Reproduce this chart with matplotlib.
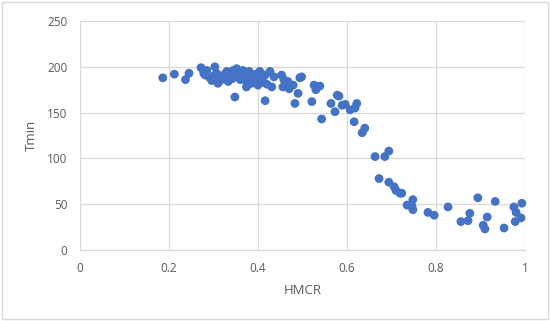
import matplotlib
matplotlib.use("Agg")
import matplotlib.pyplot as plt
from matplotlib.patches import Rectangle

hmcr = [
    0.186, 0.212, 0.237, 0.245, 0.272, 0.281, 0.292, 0.303, 0.307, 0.310,
    0.322, 0.330, 0.337, 0.344, 0.352, 0.348, 0.355, 0.360, 0.366, 0.374,
    0.374, 0.366, 0.374, 0.389, 0.404, 0.400, 0.416, 0.427, 0.431, 0.416,
    0.453, 0.456, 0.467, 0.479, 0.490, 0.494, 0.483, 0.285, 0.296, 0.315,
    0.318, 0.326, 0.333, 0.340, 0.362, 0.380, 0.385, 0.392, 0.396, 0.408,
    0.412, 0.420, 0.436, 0.458, 0.470, 0.498, 0.278, 0.300, 0.342, 0.395,
    0.526, 0.530, 0.539, 0.521, 0.543, 0.578, 0.582, 0.564, 0.573, 0.589,
    0.596, 0.607, 0.618, 0.622, 0.616, 0.640, 0.634, 0.663, 0.685, 0.694,
    0.672, 0.694, 0.706, 0.710, 0.719, 0.723, 0.735, 0.746, 0.748, 0.748,
    0.782, 0.796, 0.827, 0.856, 0.872, 0.876, 0.894, 0.906, 0.910, 0.915,
    0.933, 0.953, 0.975, 0.980, 0.978, 0.991, 0.993,
]
tmin = [
    188, 192, 186, 193, 199, 191, 188, 200, 193, 182,
    188, 195, 190, 196, 198, 167, 193, 186, 196, 191,
    178, 195, 184, 188, 195, 180, 191, 195, 178, 163,
    191, 178, 184, 180, 171, 188, 160, 196, 185, 190,
    186, 192, 184, 193, 190, 195, 182, 190, 186, 187,
    183, 181, 189, 186, 176, 189, 193, 190, 187, 192,
    180, 175, 179, 162, 143, 169, 168, 160, 151, 158,
    159, 153, 155, 160, 140, 133, 128, 102, 102, 108,
    78, 74, 69, 65, 62, 62, 49, 48, 55, 44,
    41, 38, 47, 31, 32, 40, 57, 27, 23, 36,
    53, 24, 47, 41, 31, 35, 51,
]

x_ticks = [0, 0.2, 0.4, 0.6, 0.8, 1]
x_tick_labels = ["0", "0.2", "0.4", "0.6", "0.8", "1"]
y_ticks = [0, 50, 100, 150, 200, 250]

plt.rcParams['font.family'] = ['Open Sans', 'DejaVu Sans']

fig = plt.figure(figsize=(5.5, 3.21), dpi=100)
fig.patches.append(Rectangle((0.004, 0.006), 0.992, 0.988, transform=fig.transFigure,
                             fill=False, edgecolor="#D9D9D9", linewidth=1.0))
ax = fig.add_axes([80/550, 71/321, 445/550, 229/321])

ax.scatter(hmcr, tmin, s=40, color="#4472C4", edgecolors="none", zorder=3, clip_on=False)

ax.set_xlim(0, 1)
ax.set_ylim(0, 250)
ax.set_xticks(x_ticks)
ax.set_xticklabels(x_tick_labels)
ax.set_yticks(y_ticks)
ax.grid(True, color="#D9D9D9", linewidth=0.9, zorder=0)
ax.set_axisbelow(True)
for s in ["top", "right", "left"]:
    ax.spines[s].set_visible(False)
ax.spines["bottom"].set_color("#D9D9D9")
ax.spines["bottom"].set_linewidth(0.9)
ax.tick_params(axis="both", length=0, labelsize=8.5, colors="#595959")
ax.tick_params(axis="x", pad=9)
ax.tick_params(axis="y", pad=9)
ax.set_xlabel("HMCR", fontsize=9.5, color="#595959", labelpad=6)
ax.set_ylabel("Tmin", fontsize=9.5, color="#595959", labelpad=7)

fig.savefig("out.png", dpi=100)
